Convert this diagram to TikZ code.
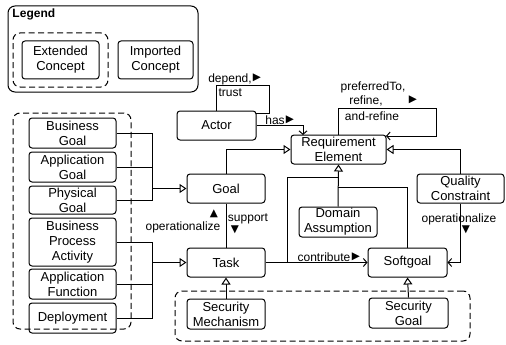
\documentclass[tikz,border=0pt]{standalone}
\usepackage{fontspec}
\setmainfont{Liberation Sans}
\newfontfamily\symfont{DejaVu Sans}
\usetikzlibrary{arrows.meta}
\begin{document}
\begin{tikzpicture}[x=1pt,y=-1pt, line width=1pt,
  box/.style={draw, rounded corners=3pt, align=center, inner sep=0pt, font=\fontsize{13}{15}\selectfont},
  dashbox/.style={draw, dash pattern=on 6pt off 3.5pt, rounded corners=7pt, inner sep=0pt},
  lbl/.style={font=\fontsize{12}{15}\selectfont, inner sep=0pt, align=center},
  mk/.style={font=\symfont\fontsize{10.5}{10}\selectfont, inner sep=0pt},
  gen/.style={-{Triangle[open,length=7pt,width=9pt,fill=white]}},
  assoc/.style={-{Straight Barb[length=3.5pt,width=8pt]}},
]
\useasboundingbox (0,0) rectangle (506,345);

% legend
\node[draw, rounded corners=7pt, minimum width=190pt, minimum height=86pt, inner sep=0pt] (legend) at (103,49) {};
\node[font=\bfseries\fontsize{12}{14}\selectfont, anchor=west, inner sep=0pt] (legendt) at (12,14) {Legend};
\node[dashbox, minimum width=95pt, minimum height=54pt] (legdash) at (60.5,60) {};
\node[box, minimum width=77pt, minimum height=38pt] (ext) at (60.5,60) {Extended\\Concept};
\node[box, minimum width=75pt, minimum height=38pt] (imp) at (155.5,60) {Imported\\Concept};

% dashed groups
\node[dashbox, minimum width=118pt, minimum height=216pt] (leftdash) at (72,221) {};
\node[dashbox, minimum width=295pt, minimum height=50pt] (botdash) at (322.5,316) {};

% left boxes
\node[box, minimum width=87pt, minimum height=30pt] (bg) at (72.5,133) {Business\\Goal};
\node[box, minimum width=87pt, minimum height=30pt] (ag) at (72.5,167) {Application\\Goal};
\node[box, minimum width=87pt, minimum height=28pt] (pg) at (72.5,200) {Physical\\Goal};
\node[box, minimum width=87pt, minimum height=48pt] (bpa) at (72.5,242) {Business\\Process\\Activity};
\node[box, minimum width=87pt, minimum height=30pt] (af) at (72.5,284) {Application\\Function};
\node[box, minimum width=87pt, minimum height=30pt] (dep) at (72.5,318) {Deployment};

% main boxes
\node[box, minimum width=79pt, minimum height=29pt] (actor) at (216.5,125.5) {Actor};
\node[box, minimum width=95pt, minimum height=29pt] (re) at (338.5,149.5) {Requirement\\Element};
\node[box, minimum width=78pt, minimum height=29pt] (goal) at (226,188.5) {Goal};
\node[box, minimum width=78pt, minimum height=29pt] (task) at (226,262.5) {Task};
\node[box, minimum width=87pt, minimum height=29pt] (qc) at (460.5,188.5) {Quality\\Constraint};
\node[box, minimum width=78pt, minimum height=30pt] (da) at (338,222) {Domain\\Assumption};
\node[box, minimum width=79pt, minimum height=29pt] (sg) at (407.5,262.5) {Softgoal};
\node[box, minimum width=79pt, minimum height=30pt] (secg) at (408.5,313) {Security\\Goal};
\node[box, minimum width=78pt, minimum height=30pt] (secm) at (226,314) {Security\\Mechanism};

% coordinates
\coordinate (busg) at (152,188.5);
\coordinate (bust) at (152,262.5);
\coordinate (hasend) at (303,135);
\coordinate (actloop) at (269,85);
\coordinate (actend) at (256,113);
\coordinate (reloop) at (436,108);
\coordinate (reend) at (386,136);
\coordinate (tbr) at (287,262.5);
\coordinate (tj) at (338,177);
\coordinate (sj) at (338,187);

% left buses
\draw (bg.east) -- (bg.east -| busg) -- (pg.east -| busg) -- (pg.east);
\draw (ag.east) -- (ag.east -| busg);
\draw[gen] (busg) -- (goal.west);
\draw (bpa.east) -- (bpa.east -| bust) -- (dep.east -| bust) -- (dep.east);
\draw (af.east) -- (af.east -| bust);
\draw[gen] (bust) -- (task.west);

% generalizations to RE
\draw[gen] (goal.north) |- (re.west);
\draw[gen] (qc.north) |- (re.east);
\draw[gen] (da.north) -- (re.south);
\draw (tbr) |- (tj);
\draw (sg.north) |- (sj);
\draw[gen] (secm.north) -- (task.south);
\draw[gen] (secg.north) -- (sg.south);

% associations
\draw (actor.north) |- (actloop) |- (actend);
\draw[assoc] (actor.east) -| (hasend);
\draw[assoc] (re.north) |- (reloop) |- (reend);
\draw (goal.south) -- (task.north);
\draw[assoc] (task.east) -- (sg.west);
\draw[assoc] (qc.south) |- (sg.east);

% labels
\node[lbl] (l1) at (230,79) {depend,};
\node[mk] (m1) at (257,78) {▶};
\node[lbl, anchor=west] (l2) at (218,93) {trust};
\node[lbl] (l3) at (275,120) {has};
\node[mk] (m3) at (290,120) {▶};
\node[lbl] (l4) at (373,87) {preferredTo,};
\node[lbl] (l5) at (366,101) {refine,};
\node[lbl] (l6) at (372,116) {and-refine};
\node[mk] (m4) at (413,100) {▶};
\node[lbl] (l7) at (324,257) {contribute};
\node[mk] (m7) at (356,257) {▶};
\node[lbl] (l8) at (183,227) {operationalize};
\node[mk] (m8) at (214,213.5) {▲};
\node[lbl] (l9) at (248,219) {support};
\node[mk] (m9) at (235,229.5) {▼};
\node[lbl] (l10) at (459,219) {operationalize};
\node[mk] (m10) at (466,229.5) {▼};
\end{tikzpicture}
\end{document}
